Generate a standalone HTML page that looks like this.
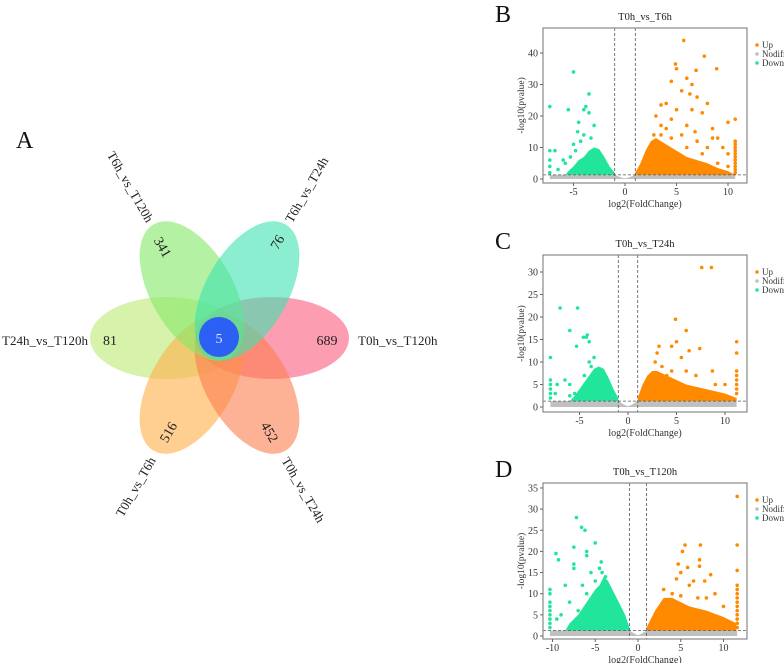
<!DOCTYPE html>
<html><head><meta charset="utf-8">
<style>
html,body{margin:0;padding:0;background:#fff;}
svg{display:block;font-family:"Liberation Serif",serif;}
</style></head>
<body>
<svg id="fig" width="784" height="663" viewBox="0 0 784 663">
  <g id="venn">
    <text x="16" y="148" font-size="24" fill="#111">A</text>
    <ellipse cx="167" cy="338" rx="77" ry="41" fill="#c6ec86" fill-opacity="0.7"/>
    <ellipse cx="272" cy="338" rx="77" ry="41" fill="#fb6f8e" fill-opacity="0.68"/>
    <ellipse cx="192" cy="384" rx="77" ry="41" transform="rotate(-60 192 384)" fill="#fdb24c" fill-opacity="0.62"/>
    <ellipse cx="247" cy="384" rx="77" ry="41" transform="rotate(60 247 384)" fill="#fc7d4f" fill-opacity="0.6"/>
    <ellipse cx="192" cy="291" rx="77" ry="41" transform="rotate(60 192 291)" fill="#86e86a" fill-opacity="0.62"/>
    <ellipse cx="247" cy="291" rx="77" ry="41" transform="rotate(-60 247 291)" fill="#3ee2b0" fill-opacity="0.6"/>
    <circle cx="219" cy="337" r="20" fill="#2c5ff4"/>
    <g font-size="14" fill="#222" text-anchor="middle">
      <text x="219" y="343" fill="#dfe6ff">5</text>
      <text x="110" y="345">81</text>
      <text x="327" y="345">689</text>
      <text x="0" y="0" transform="translate(163,247) rotate(60)" dy="5">341</text>
      <text x="0" y="0" transform="translate(277,242) rotate(-60)" dy="5">76</text>
      <text x="0" y="0" transform="translate(168,432) rotate(-60)" dy="5">516</text>
      <text x="0" y="0" transform="translate(270,432) rotate(60)" dy="5">452</text>
    </g>
    <g font-size="13" fill="#222">
      <text x="2" y="345">T24h_vs_T120h</text>
      <text x="358" y="345">T0h_vs_T120h</text>
      <text transform="translate(130,187) rotate(60)" text-anchor="middle" dy="4">T6h_vs_T120h</text>
      <text transform="translate(307,190) rotate(-60)" text-anchor="middle" dy="4">T6h_vs_T24h</text>
      <text transform="translate(136,487) rotate(-60)" text-anchor="middle" dy="4">T0h_vs_T6h</text>
      <text transform="translate(303,490) rotate(60)" text-anchor="middle" dy="4">T0h_vs_T24h</text>
    </g>
  </g>
  <g id="plots"></g>
</svg>
<script>
// ---- Data: volcano plot B (T0h_vs_T6h) ----
const bXTicks = [-5, 0, 5, 10];
const bYTicks = [0, 10, 20, 30, 40];
const bDownCloud = [[-1,1.3],[-1,2],[-1.5,4],[-2,7],[-2.5,9.5],[-3,10],[-3.5,9],[-4,7],[-4.5,6],[-5,4],[-5.5,2.5],[-5.8,1.3]];
const bUpCloud = [[1,1.3],[1,2],[1.5,5],[2,9],[2.5,12],[3,13],[3.5,12],[4,11],[5,9],[6,7],[7,6],[8,5],[9,3.5],[10,2.5],[10.7,1.3]];
const bDownPts = [[-5,34],[-3.5,27],[-3.8,23],[-5.5,22],[-4,22],[-7.3,23],[-3.5,21],[-4.5,18],[-3,17],[-4.6,15],[-4,14],[-5,11],[-7.3,9],[-6.8,9],[-6,6],[-5.8,5],[-7.3,6],[-7.3,4],[-6.5,3],[-7.3,2],[-4.3,12],[-3.3,13],[-4.8,9],[-5.3,7]];
const bUpPts = [[5.7,44],[7.7,39],[4.9,36.5],[8.9,35],[6.9,34.5],[5,35],[6,32],[4.5,31],[6.5,30],[7,26],[5.5,28],[6.3,27],[4,24],[3.5,23.5],[8,24],[5,22],[6.5,22],[7.5,21],[3,20],[4.5,19],[10.7,19],[10,18],[8.5,16],[3.5,17],[6,17],[9,13],[8.5,13],[2.8,14],[10,8],[9.5,10],[10.7,12],[10.7,11],[10.7,10],[10.7,9],[10.7,8],[10.7,7],[10.7,6],[10.7,5],[10.7,4],[10.7,3],[10.7,2],[8,10],[7,12],[5.5,14],[4,16],[6,10],[9,5],[10,4],[3.5,14],[4.5,13],[6.8,15],[7.5,8]];
const bGray = [[-7.3,0],[-7.3,1.3],[-1,1.3],[-0.3,0.4],[0,0.2],[0.3,0.4],[1,1.3],[10.7,1.3],[10.7,0]];

// ---- Data: volcano plot C (T0h_vs_T24h) ----
const cXTicks = [-5, 0, 5, 10];
const cYTicks = [0, 5, 10, 15, 20, 25, 30];
const cDownCloud = [[-1,1.3],[-1,2],[-1.5,4],[-2,6.5],[-2.5,8.5],[-3,9],[-3.5,8.5],[-4,7],[-4.5,5.5],[-5,4],[-5.5,2.5],[-6,1.3]];
const cUpCloud = [[1,1.3],[1,2],[1.5,5],[2,7],[2.5,8],[3,8],[4,7],[5,6],[6,5],[8,4],[10,3],[11.2,2],[11.2,1.3]];
const cDownPts = [[-7,22],[-5.2,22],[-6,17],[-4.2,16],[-4.3,15.5],[-4.6,15.5],[-5.3,13.5],[-4,14.5],[-3.5,11],[-4,10],[-8,11],[-8,6],[-8,5],[-8,4],[-8,3],[-8,2],[-7.3,5],[-6.5,6],[-6,5],[-7.5,3],[-5.5,3],[-6,2.5],[-4.5,7],[-3.8,9]];
const cUpPts = [[7.6,31],[8.6,31],[4.9,19.5],[6,17],[4.5,13.5],[3.2,13.5],[5,14.5],[7.4,13],[6.3,12.5],[3,12],[5.5,11],[11.2,14.5],[11.2,12],[11.2,8],[11.2,7],[11.2,6],[11.2,5],[11.2,4],[11.2,3],[8.7,8],[7,7],[9,5],[10,5],[3.5,9],[4.5,8],[6,8],[2.8,10],[4,7]];
const cGray = [[-8,0],[-8,1.3],[-1,1.3],[-0.3,0.4],[0,0.2],[0.3,0.4],[1,1.3],[11.2,1.3],[11.2,0]];

// ---- Data: volcano plot D (T0h_vs_T120h) ----
const dXTicks = [-10, -5, 0, 5, 10];
const dYTicks = [0, 5, 10, 15, 20, 25, 30, 35];
const dDownCloud = [[-1,1.3],[-1,2],[-1.5,5],[-2.5,9],[-3.5,13],[-4,14],[-4.5,12],[-5,11],[-6,8],[-7,5],[-8,3],[-8.5,1.3]];
const dUpCloud = [[1,1.3],[1,2],[2,6],[3,9],[4,9],[5,8],[6,7],[8,6],[10,4.5],[11.5,3],[11.5,1.3]];
const dDownPts = [[-7.2,28],[-6.6,25.7],[-6.2,25],[-5,22],[-9.6,19.5],[-9.3,18],[-6,20],[-6,19],[-7.5,21],[-4.3,17.5],[-4.5,16],[-5.5,15],[-7.5,17],[-7.5,16],[-8.5,12],[-6.5,12],[-10.3,11],[-10.3,10],[-10.3,8],[-10.3,7],[-10.3,6],[-10.3,5],[-10.3,4],[-10.3,3],[-10.3,2],[-9,5],[-9.5,4],[-8,8],[-7,6],[-6,10],[-5,13],[-4.2,15],[-3.8,14]];
const dUpPts = [[11.6,33],[11.6,21.5],[11.6,15.5],[11.6,12],[11.6,11],[11.6,10],[11.6,9],[11.6,8],[11.6,7],[11.6,6],[11.6,5],[11.6,4],[11.6,3],[11.6,2],[7.3,21.5],[5.5,21.5],[5.2,20],[4.7,17],[7.2,18],[7.2,16.5],[5.8,16.2],[5,15],[8.5,14.5],[4.5,13.5],[6.5,13],[7.8,13],[6,12],[9,10],[10,7],[3,11],[4,10],[5,9.5],[7,9],[8,9]];
const dGray = [[-10.3,0],[-10.3,1.3],[-1,1.3],[-0.3,0.4],[0,0.2],[0.3,0.4],[1,1.3],[11.6,1.3],[11.6,0]];

const NS = "http://www.w3.org/2000/svg";
const UP = "#ff8a00", DOWN = "#22e59c", GRAY = "#c0c0c0";

function mk(tag, attrs, parent) {
  const e = document.createElementNS(NS, tag);
  for (const k in attrs) e.setAttribute(k, attrs[k]);
  parent.appendChild(e);
  return e;
}

function volcano(cfg) {
  const root = document.getElementById("plots");
  const g = mk("g", {}, root);
  
  
  const sx = v => cfg.x0 + v * cfg.ux;
  const sy = v => cfg.y0 - v * cfg.uy;
  const L = cfg.box[0], T = cfg.box[1], R = cfg.box[2], B = cfg.box[3];
  const pl = mk("text", {x: L - 48, y: T - 6, "font-size": 24, fill: "#111"}, g);
  pl.textContent = cfg.letter;
  
  
  const ti = mk("text", {x: (L + R) / 2, y: T - 8, "font-size": 10.5, fill: "#222", "text-anchor": "middle"}, g);
  ti.textContent = cfg.title;
  
  
  const poly = (pts, col, nm) => {
    const p = mk("polygon", {points: pts.map(q => sx(q[0]) + "," + sy(q[1])).join(" "), fill: col}, g);
    
    
  };
  poly(cfg.gray, GRAY, 'nodiff-cloud');
  poly(cfg.down, DOWN, 'down-cloud');
  poly(cfg.up, UP, 'up-cloud');
  const dots = (pts, col, nm) => {
    pts.forEach(q => {
      const c = mk("circle", {cx: sx(q[0]), cy: sy(q[1]), r: 1.8, fill: col}, g);
      
      
    });
  };
  dots(cfg.downPts, DOWN, 'down-point');
  dots(cfg.upPts, UP, 'up-point');
  [-1, 1].forEach(v => {
    const l = mk("line", {x1: sx(v), x2: sx(v), y1: T, y2: B, stroke: "#555", "stroke-width": 0.8, "stroke-dasharray": "3,2"}, g);
    
    
  });
  const hl = mk("line", {x1: L, x2: R, y1: sy(1.3), y2: sy(1.3), stroke: "#555", "stroke-width": 0.8, "stroke-dasharray": "3,2"}, g);
  
  
  const bx = mk("rect", {x: L, y: T, width: R - L, height: B - T, fill: "none", stroke: "#888", "stroke-width": 1.2}, g);
  
  
  cfg.xt.forEach(v => {
    mk("line", {x1: sx(v), x2: sx(v), y1: B, y2: B + 3, stroke: "#666"}, g);
    const t = mk("text", {x: sx(v), y: B + 12, "font-size": 10, fill: "#333", "text-anchor": "middle"}, g);
    t.textContent = v;
    
    
  });
  cfg.yt.forEach(v => {
    mk("line", {x1: L - 3, x2: L, y1: sy(v), y2: sy(v), stroke: "#666"}, g);
    const t = mk("text", {x: L - 5, y: sy(v) + 3.5, "font-size": 10, fill: "#333", "text-anchor": "end"}, g);
    t.textContent = v;
    
    
  });
  const xl = mk("text", {x: (L + R) / 2, y: B + 24, "font-size": 10, fill: "#333", "text-anchor": "middle"}, g);
  xl.textContent = "log2(FoldChange)";
  
  
  const yl = mk("text", {transform: "translate(" + (L - 19) + "," + ((T + B) / 2) + ") rotate(-90)", "font-size": 9.5, fill: "#333", "text-anchor": "middle"}, g);
  yl.textContent = "-log10(pvalue)";
  
  
  [["Up", UP], ["Nodiff", GRAY], ["Down", DOWN]].forEach((e, i) => {
    const y = T + 17 + i * 9;
    const c = mk("circle", {cx: R + 10, cy: y, r: 1.8, fill: e[1]}, g);
    
    
    const t = mk("text", {x: R + 15, y: y + 3, "font-size": 9, fill: "#333"}, g);
    t.textContent = e[0];
    
    
  });
}

volcano({name: "volcano-b", letter: "B", title: "T0h_vs_T6h", box: [543, 28, 747, 183], x0: 625, ux: 10.3, y0: 179, uy: 3.15,
  xt: bXTicks, yt: bYTicks, down: bDownCloud, up: bUpCloud, downPts: bDownPts, upPts: bUpPts, gray: bGray});
volcano({name: "volcano-c", letter: "C", title: "T0h_vs_T24h", box: [543, 255, 747, 412], x0: 628, ux: 9.7, y0: 407, uy: 4.5,
  xt: cXTicks, yt: cYTicks, down: cDownCloud, up: cUpCloud, downPts: cDownPts, upPts: cUpPts, gray: cGray});
volcano({name: "volcano-d", letter: "D", title: "T0h_vs_T120h", box: [543, 483, 747, 639], x0: 638, ux: 8.55, y0: 636, uy: 4.23,
  xt: dXTicks, yt: dYTicks, down: dDownCloud, up: dUpCloud, downPts: dDownPts, upPts: dUpPts, gray: dGray});
</script>
</body></html>
